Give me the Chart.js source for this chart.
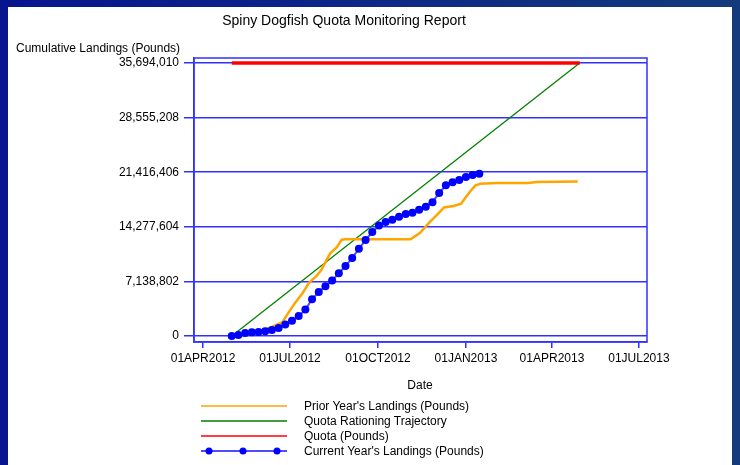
<!DOCTYPE html>
<html>
<head>
<meta charset="utf-8">
<script src="https://cdn.jsdelivr.net/npm/chart.js@4.4.1/dist/chart.umd.min.js"></script>
<style>
  body { margin: 0; width: 740px; height: 465px; overflow: hidden;
         background: linear-gradient(to right, #07158f, #123a7c); font-family: "Liberation Sans", Arial, sans-serif; }
  #panel { position: absolute; left: 8px; top: 7px; width: 724px; height: 458px; background: #fff; }
  #chart { position: absolute; left: 0; top: 0; }
  .txt { position: absolute; font-size: 12px; color: #000; white-space: nowrap; }
  #title { left: 0; width: 688px; top: 12px; text-align: center; font-size: 14px; }
  #ytitle { left: 16px; top: 41px; }
  #xtitle { left: 380px; width: 80px; top: 378px; text-align: center; }
  .leg { position: absolute; left: 200px; height: 14px; }
  .leg span { position: absolute; left: 104px; top: 0; font-size: 12px; line-height: 14px; white-space: nowrap; }
</style>
</head>
<body>
<div id="panel"></div>
<canvas id="chart" width="740" height="465"></canvas>
<div id="title" class="txt">Spiny Dogfish Quota Monitoring Report</div>
<div id="ytitle" class="txt">Cumulative Landings (Pounds)</div>
<div id="xtitle" class="txt">Date</div>
<div id="legend"></div>
<script>
const quota = 35694010;

// Axis ticks
const yTicks = [0, 7138802, 14277604, 21416406, 28555208, 35694010];
const xTickDates = ["2012-04-01", "2012-07-01", "2012-10-01", "2013-01-01", "2013-04-01", "2013-07-01"];
const xTickLabels = ["01APR2012", "01JUL2012", "01OCT2012", "01JAN2013", "01APR2013", "01JUL2013"];

// Quota period (quota line and rationing trajectory)
const quotaDates = ["2012-05-01", "2013-04-30"];
const quotaValues = [quota, quota];
const trajectoryValues = [0, quota];

// Prior year's cumulative landings
const priorDates = ["2012-05-01", "2012-05-20", "2012-06-03", "2012-06-12", "2012-06-23", "2012-06-29",
  "2012-07-06", "2012-07-14", "2012-07-21", "2012-07-29", "2012-08-03", "2012-08-12", "2012-08-19",
  "2012-08-24", "2012-08-28", "2012-11-04", "2012-11-14", "2012-11-24", "2012-12-03", "2012-12-09",
  "2012-12-19", "2012-12-27", "2012-12-31", "2013-01-06", "2013-01-11", "2013-01-16", "2013-02-03",
  "2013-03-07", "2013-03-16", "2013-04-28"];
const priorValues = [0, 300000, 780000, 1200000, 1800000, 3000000,
  4300000, 5600000, 7000000, 7900000, 8700000, 10800000, 11600000,
  12600000, 12650000, 12650000, 13500000, 14900000, 16000000, 16800000,
  17000000, 17300000, 18000000, 19000000, 19700000, 19900000, 20000000,
  20000000, 20150000, 20200000];

// Current year's cumulative landings (weekly)
const currentDates = ["2012-05-01", "2012-05-08", "2012-05-15", "2012-05-22", "2012-05-29", "2012-06-05",
  "2012-06-12", "2012-06-19", "2012-06-26", "2012-07-03", "2012-07-10", "2012-07-17", "2012-07-24",
  "2012-07-31", "2012-08-07", "2012-08-14", "2012-08-21", "2012-08-28", "2012-09-04", "2012-09-11",
  "2012-09-18", "2012-09-25", "2012-10-02", "2012-10-09", "2012-10-16", "2012-10-23", "2012-10-30",
  "2012-11-06", "2012-11-13", "2012-11-20", "2012-11-27", "2012-12-04", "2012-12-11", "2012-12-18",
  "2012-12-25", "2013-01-01", "2013-01-08", "2013-01-15"];
const currentValues = [0, 130000, 390000, 480000, 520000, 630000,
  780000, 1050000, 1500000, 2000000, 2600000, 3450000, 4800000,
  5750000, 6500000, 7250000, 8200000, 9150000, 10200000, 11400000,
  12550000, 13600000, 14450000, 14900000, 15200000, 15600000, 15950000,
  16100000, 16500000, 16900000, 17500000, 18700000, 19700000, 20100000,
  20400000, 20800000, 21050000, 21200000];

const t = s => Date.parse(s + "T00:00:00Z");
const pts = (dates, vals) => dates.map((d, i) => ({ x: t(d), y: vals[i] }));

const BLUE = "#3030ff";

const boxPlugin = {
  id: "box",
  beforeDatasetsDraw(chart) {
    const a = chart.chartArea, ctx = chart.ctx;
    ctx.save();
    ctx.strokeStyle = BLUE;
    ctx.lineWidth = 1.5;
    ctx.strokeRect(a.left, a.top, a.right - a.left, a.bottom - a.top);
    ctx.restore();
  }
};

Chart.defaults.font.family = '"Liberation Sans", Arial, sans-serif';
Chart.defaults.font.size = 12;
Chart.defaults.color = "#000";

const chart = new Chart(document.getElementById("chart"), {
  type: "line",
  data: {
    datasets: [
      { label: "Prior Year's Landings (Pounds)", data: pts(priorDates, priorValues),
        borderColor: "#ffa500", borderWidth: 2.5, pointRadius: 0, order: 2 },
      { label: "Quota Rationing Trajectory", data: pts(quotaDates, trajectoryValues),
        borderColor: "#008000", borderWidth: 1.3, pointRadius: 0, order: 3 },
      { label: "Quota (Pounds)", data: pts(quotaDates, quotaValues),
        borderColor: "#ff0000", borderWidth: 3.5, pointRadius: 0, order: 1 },
      { label: "Current Year's Landings (Pounds)", data: pts(currentDates, currentValues),
        borderColor: "#4d4dff", borderWidth: 2, pointRadius: 4,
        pointBackgroundColor: "#0000ff", pointBorderColor: "#0000ff", pointBorderWidth: 0, order: 0 }
    ]
  },
  options: {
    responsive: false,
    animation: false,
    layout: { padding: { left: 0, top: 58, right: 93, bottom: 93 } },
    plugins: { legend: { display: false }, tooltip: { enabled: false } },
    scales: {
      x: {
        type: "linear",
        min: t("2012-03-22") + 12 * 3600e3,
        max: t("2013-07-09") + 10 * 3600e3,
        afterFit: s => { s.height = 30; },
        afterBuildTicks: s => { s.ticks = xTickDates.map(d => ({ value: t(d) })); },
        ticks: { autoSkip: false, maxRotation: 0, padding: 3,
          callback: (v, i) => xTickLabels[i] },
        grid: { drawOnChartArea: false, tickLength: 6, color: BLUE, lineWidth: 1.5 },
        border: { color: BLUE, width: 1.5 }
      },
      y: {
        type: "linear",
        min: -784000,
        max: 36348000,
        afterFit: s => { s.width = 194; },
        afterBuildTicks: s => { s.ticks = yTicks.map(v => ({ value: v })); },
        ticks: { padding: 5, callback: v => v.toLocaleString("en-US") },
        grid: { color: BLUE, lineWidth: 1.5, tickLength: 10 },
        border: { color: BLUE, width: 1.5 }
      }
    }
  },
  plugins: [boxPlugin]
});

// Vertical legend below the plot
const legend = document.getElementById("legend");
const rowTops = [399, 414, 429, 444];
chart.data.datasets.forEach((ds, i) => {
  const row = document.createElement("div");
  row.className = "leg";
  row.style.top = rowTops[i] + "px";
  let svg = `<svg width="90" height="14" style="position:absolute;left:0;top:0">` +
    `<line x1="1" y1="7" x2="87" y2="7" stroke="${ds.borderColor}" stroke-width="${i === 3 ? 2 : 1.5}"/>`;
  if (i === 3) {
    [9, 43, 77].forEach(cx => { svg += `<circle cx="${cx}" cy="7" r="3.5" fill="#0000ff"/>`; });
  }
  svg += "</svg>";
  row.innerHTML = svg + `<span>${ds.label}</span>`;
  legend.appendChild(row);
});
</script>
</body>
</html>
